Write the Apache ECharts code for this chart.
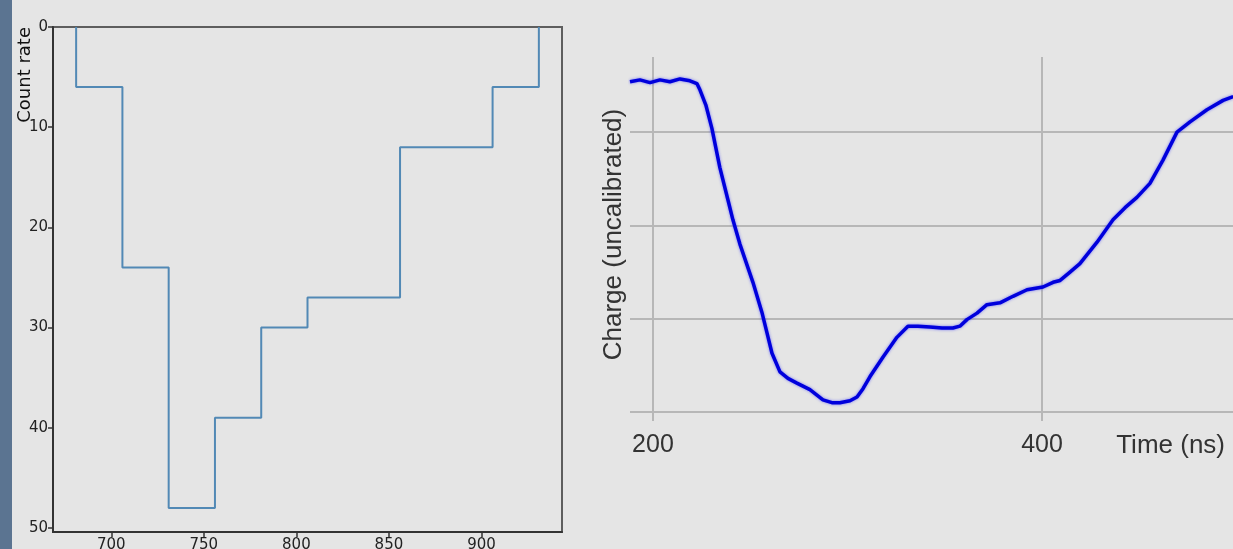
<!DOCTYPE html>
<html>
<head>
<meta charset="utf-8">
<script src="https://cdn.jsdelivr.net/npm/echarts@6/dist/echarts.min.js"></script>
<style>
  html, body { margin: 0; padding: 0; background: #e5e5e5; }
  #main { width: 1233px; height: 549px; }
</style>
</head>
<body>
<div id="main"></div>
<script>
// histogram (left panel)
var binEdges = [681, 706, 731, 756, 781, 806, 831, 856, 881, 906, 931];
var counts = [6, 24, 48, 39, 30, 27, 27, 12, 12, 6];
var histTicksX = [700, 750, 800, 850, 900];
var histTicksY = [0, 10, 20, 30, 40, 50];

// scope trace (right panel)
var timeNs = [188.2, 193.3, 198.5, 203.6, 208.7, 213.9, 219.0, 222.6, 224.2, 227.2,
  230.3, 234.4, 238.6, 241.1, 244.7, 251.4, 256.0, 258.6, 261.2, 265.3,
  269.4, 274.0, 280.7, 287.4, 292.0, 296.1, 301.3, 304.9, 308.0, 311.6,
  318.3, 325.4, 331.1, 336.2, 342.4, 348.6, 354.2, 357.8, 361.4, 366.6,
  371.7, 378.4, 385.1, 392.3, 400.5, 405.7, 409.3, 414.4, 419.5, 428.3,
  436.5, 442.7, 448.8, 455.5, 462.2, 469.4, 476.1, 484.8, 493.1, 498.3];
var charge = [3.54, 3.56, 3.53, 3.56, 3.54, 3.57, 3.55, 3.52, 3.45, 3.29,
  3.04, 2.62, 2.27, 2.06, 1.80, 1.39, 1.07, 0.85, 0.63, 0.43,
  0.36, 0.31, 0.24, 0.13, 0.10, 0.10, 0.12, 0.16, 0.25, 0.38,
  0.59, 0.80, 0.92, 0.92, 0.91, 0.90, 0.90, 0.92, 0.99, 1.06,
  1.15, 1.17, 1.24, 1.31, 1.34, 1.39, 1.41, 1.50, 1.59, 1.82,
  2.06, 2.19, 2.30, 2.45, 2.70, 3.00, 3.11, 3.24, 3.34, 3.38];
var traceTicksX = [200, 400];
var traceTicksY = [0, 1, 2, 3];

// step outline: start at 0, one point per bin, back to 0
var histData = [[binEdges[0], 0]];
counts.forEach(function (c, i) {
  histData.push([binEdges[i], c]);
});
histData.push([binEdges[binEdges.length - 1], 0]);

var traceData = timeNs.map(function (t, i) {
  return [t, charge[i]];
});

var chartDom = document.getElementById('main');
var myChart = echarts.init(chartDom);
var option;

var gridGray = '#b7b7b7';
var textGray = '#333';

option = {
  backgroundColor: '#e5e5e5',
  animation: false,
  graphic: [
    {
      type: 'rect',
      shape: { x: 0, y: 0, width: 12, height: 549 },
      style: { fill: '#5b7491' }
    },
    {
      type: 'text',
      x: 25,
      y: 27,
      rotation: Math.PI / 2,
      style: {
        text: 'Count rate',
        align: 'right',
        verticalAlign: 'middle',
        fill: '#111',
        font: '18px "DejaVu Sans"'
      }
    }
  ],
  grid: [
    {
      left: 53, top: 27, width: 509, bottom: 17,
      outerBoundsMode: 'none', containLabel: false,
      show: true, borderColor: '#5e5e5e', borderWidth: 2
    },
    { left: 630, top: 57, right: 0, bottom: 137, outerBoundsMode: 'none', containLabel: false }
  ],
  xAxis: [
    {
      gridIndex: 0,
      type: 'value',
      min: 668.5,
      max: 943.5,
      axisLine: { onZero: false, lineStyle: { color: '#333', width: 2 } },
      axisTick: { customValues: histTicksX, length: 5, lineStyle: { color: '#333', width: 1.5 } },
      axisLabel: { customValues: histTicksX, color: '#222', fontSize: 15, margin: 6, fontFamily: 'DejaVu Sans' },
      splitLine: { show: false }
    },
    {
      gridIndex: 1,
      type: 'value',
      min: 188.2,
      max: 498.2,
      name: 'Time (ns)',
      nameLocation: 'end',
      nameGap: -8,
      nameTextStyle: {
        align: 'right',
        verticalAlign: 'top',
        padding: [21, 0, 0, 0],
        fontSize: 26,
        color: textGray,
        fontFamily: 'Liberation Sans'
      },
      axisLine: { show: false, onZero: false },
      axisTick: { customValues: traceTicksX, length: 9, lineStyle: { color: gridGray, width: 2 } },
      axisLabel: { customValues: traceTicksX, color: textGray, fontSize: 25, margin: 21, fontFamily: 'Liberation Sans' },
      splitLine: { show: true, lineStyle: { color: gridGray, width: 2 } }
    }
  ],
  yAxis: [
    {
      gridIndex: 0,
      type: 'value',
      inverse: true,
      min: 0,
      max: 50.4,
      axisLine: { onZero: false, lineStyle: { color: '#333', width: 2 } },
      axisTick: { customValues: histTicksY, length: 5, lineStyle: { color: '#333', width: 1.5 } },
      axisLabel: { customValues: histTicksY, color: '#222', fontSize: 15, margin: 5, fontFamily: 'DejaVu Sans' },
      splitLine: { show: false }
    },
    {
      gridIndex: 1,
      type: 'value',
      min: 0,
      max: 3.805,
      name: 'Charge (uncalibrated)',
      nameLocation: 'middle',
      nameGap: 3,
      nameTextStyle: { fontSize: 26, color: textGray, fontFamily: 'Liberation Sans' },
      axisLine: { show: false, onZero: false },
      axisTick: { show: false, customValues: traceTicksY },
      axisLabel: { show: false, customValues: traceTicksY },
      splitLine: { show: true, lineStyle: { color: gridGray, width: 2 } }
    }
  ],
  series: [
    {
      type: 'line',
      xAxisIndex: 0,
      yAxisIndex: 0,
      step: 'end',
      data: histData,
      showSymbol: false,
      lineStyle: { color: '#5289b5', width: 2 }
    },
    {
      type: 'line',
      xAxisIndex: 1,
      yAxisIndex: 1,
      data: traceData,
      showSymbol: false,
      lineStyle: {
        color: '#0000dc',
        width: 3.5,
        shadowColor: 'rgba(40, 40, 255, 0.6)',
        shadowBlur: 3
      }
    }
  ]
};

option && myChart.setOption(option);
</script>
</body>
</html>
